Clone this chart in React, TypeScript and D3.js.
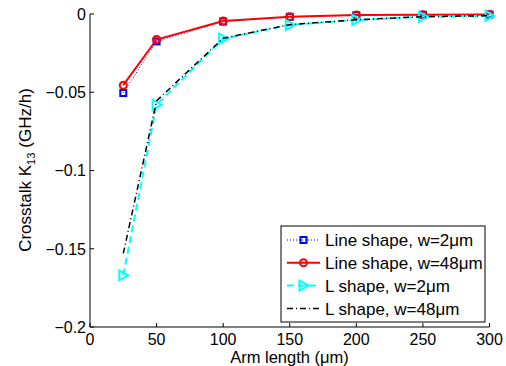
import React from "react";
import * as d3 from "d3";

const armLengths = [25, 50, 100, 150, 200, 250, 300];
const lineW2 = [-0.0505, -0.0175, -0.0048, -0.0018, -0.0008, -0.0005, -0.0003];
const lineW48 = [-0.0455, -0.0163, -0.0045, -0.0017, -0.0007, -0.0004, -0.0003];
const lShapeW2 = [-0.167, -0.058, -0.0158, -0.007, -0.0038, -0.0018, -0.0012];
const lShapeW48 = [-0.153, -0.0555, -0.0155, -0.0068, -0.0037, -0.0017, -0.0011];
const xTicks = [0, 50, 100, 150, 200, 250, 300];
const yTicks = [0, -0.05, -0.1, -0.15, -0.2];
const yTickLabels = ["0", "\u22120.05", "\u22120.1", "\u22120.15", "\u22120.2"];
const legendLabels = ["Line shape, w=2\u03bcm", "Line shape, w=48\u03bcm", "L shape, w=2\u03bcm", "L shape, w=48\u03bcm"];
const xLabel = "Arm length (\u03bcm)";

const W = 506, H = 366;
const x = d3.scaleLinear().domain([0, 300]).range([90, 489.5]);
const y = d3.scaleLinear().domain([-0.2, 0]).range([327, 14]);
const font = "Arial, 'Liberation Sans', Helvetica, sans-serif";
const FS_TICK = 16;
const FS = 17;

type Series = { values: number[]; color: string; width: number; dash: string; marker: string };
const series: Series[] = [
  { values: lineW2, color: "#0000ff", width: 1, dash: "1,2", marker: "square" },
  { values: lineW48, color: "#ff0000", width: 2, dash: "", marker: "circle" },
  { values: lShapeW2, color: "#00ffff", width: 2, dash: "7,4", marker: "triangle" },
  { values: lShapeW48, color: "#000000", width: 1.5, dash: "6,3,1,3", marker: "none" },
];

function Marker({ kind, cx, cy, color }: { kind: string; cx: number; cy: number; color: string }) {
  if (kind === "square") return <rect x={cx - 3} y={cy - 3} width={6} height={6} fill="none" stroke={color} strokeWidth={2} />;
  if (kind === "circle") return <circle cx={cx} cy={cy} r={3.5} fill="none" stroke={color} strokeWidth={2} />;
  if (kind === "triangle")
    return <path d={`M${cx - 4},${cy - 5}L${cx + 5},${cy}L${cx - 4},${cy + 5}Z`} fill="none" stroke={color} strokeWidth={2} />;
  return null;
}

export default function App() {
  const line = d3.line<number>().x((_, i) => x(armLengths[i])).y((d) => y(d));
  return (
    <svg width={W} height={H} style={{ position: "absolute", left: 0, top: 0, background: "#fff" }}>
      <rect width={W} height={H} fill="#fff" />
      <line x1={90} y1={14} x2={90} y2={327} stroke="#000" strokeWidth={1} />
      <line x1={90} y1={327} x2={489.5} y2={327} stroke="#000" strokeWidth={1} />
      {yTicks.map((t, i) => (
        <g key={"y" + i}>
          <line x1={90} x2={94} y1={y(t)} y2={y(t)} stroke="#000" />
          <text x={86} y={y(t)} dy="0.36em" textAnchor="end" fontFamily={font} fontSize={FS_TICK}>{yTickLabels[i]}</text>
        </g>
      ))}
      {xTicks.map((t, i) => (
        <g key={"x" + i}>
          <line x1={x(t)} x2={x(t)} y1={327} y2={323} stroke="#000" />
          <text x={x(t)} y={344.5} textAnchor="middle" fontFamily={font} fontSize={FS_TICK}>{t}</text>
        </g>
      ))}
      <text x={289.5} y={363} textAnchor="middle" fontFamily={font} fontSize={16.5}>{xLabel}</text>
      <text transform="translate(31,170) rotate(-90)" textAnchor="middle" fontFamily={font} fontSize={FS}>
        Crosstalk K<tspan fontSize={11} dy={4}>13</tspan><tspan dy={-4} dx={5}>(GHz/h)</tspan>
      </text>
      {series.map((s, si) => (
        <g key={"s" + si}>
          <path d={line(s.values) || ""} fill="none" stroke={s.color} strokeWidth={s.width} strokeDasharray={s.dash} />
          {s.values.map((v, i) => (
            <Marker key={i} kind={s.marker} cx={x(armLengths[i])} cy={y(v)} color={s.color} />
          ))}
        </g>
      ))}
      <rect x={281} y={226} width={204} height={96} fill="#fff" stroke="#000" strokeWidth={1} />
      {series.map((s, i) => {
        const ly = 240 + i * 22.8;
        return (
          <g key={"l" + i}>
            <line x1={287} x2={320} y1={ly} y2={ly} stroke={s.color} strokeWidth={s.width} strokeDasharray={s.dash} />
            <Marker kind={s.marker} cx={303.5} cy={ly} color={s.color} />
            <text x={325} y={ly} dy="0.36em" fontFamily={font} fontSize={FS}>{legendLabels[i]}</text>
          </g>
        );
      })}
    </svg>
  );
}
